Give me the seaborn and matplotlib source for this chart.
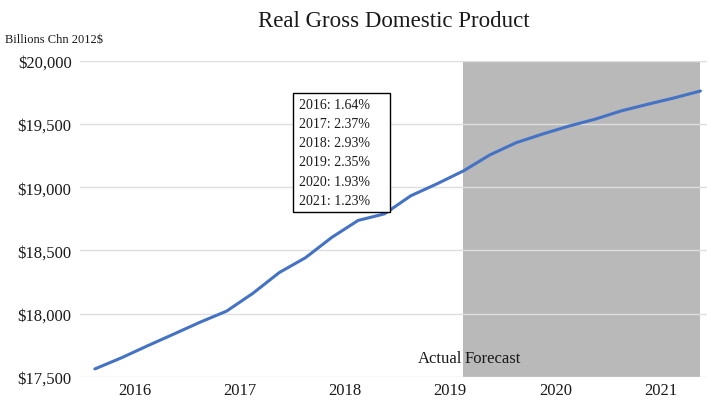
import matplotlib
matplotlib.use("Agg")
import matplotlib.pyplot as plt
import matplotlib.patches as mpatches
import seaborn as sns
import pandas as pd

# quarterly real GDP, billions of chained 2012 dollars (2016Q1 .. 2021Q4)
quarters = ["2016Q1", "2016Q2", "2016Q3", "2016Q4",
            "2017Q1", "2017Q2", "2017Q3", "2017Q4",
            "2018Q1", "2018Q2", "2018Q3", "2018Q4",
            "2019Q1", "2019Q2", "2019Q3", "2019Q4",
            "2020Q1", "2020Q2", "2020Q3", "2020Q4",
            "2021Q1", "2021Q2", "2021Q3", "2021Q4"]
gdp = [17563, 17650, 17746, 17839,
       17933, 18020, 18161, 18325,
       18443, 18604, 18738, 18790,
       18933, 19028, 19130, 19256,
       19353, 19421, 19484, 19539,
       19605, 19657, 19707, 19762]
years = ["2016", "2017", "2018", "2019", "2020", "2021"]
growth = ["1.64%", "2.37%", "2.93%", "2.35%", "1.93%", "1.23%"]
forecast_start = "2019Q3"

df = pd.DataFrame({"quarter": quarters, "gdp": gdp})
df["idx"] = range(len(df))

sns.set_style("white")
plt.rcParams["font.family"] = ["Liberation Serif", "DejaVu Serif"]

fig = plt.figure(figsize=(7.07, 4.02), dpi=100)
ax = fig.add_axes([0.113, 0.06, 0.887, 0.786])

fs = quarters.index(forecast_start)
ax.axvspan(fs, len(quarters) - 1, color="#b9b9b9", zorder=0, lw=0)

sns.lineplot(data=df, x="idx", y="gdp", ax=ax, color="#4472C4", lw=2.2, zorder=3)

ax.set_xlim(-0.57, 23.25)
ax.set_ylim(17500, 20000)
ax.set_yticks([17500, 18000, 18500, 19000, 19500, 20000])
ax.set_yticklabels(["${:,}".format(v) for v in ax.get_yticks().astype(int)])
ax.set_xticks([1.5 + 4 * i for i in range(len(years))])
ax.set_xticklabels(years)
ax.tick_params(axis="both", length=0, labelsize=12, colors="#1a1a1a")
ax.tick_params(axis="y", pad=6)
ax.tick_params(axis="x", pad=4)
ax.grid(axis="y", color="#dedede", lw=1, zorder=1)
ax.set_axisbelow(False)
for sp in ax.spines.values():
    sp.set_visible(False)
ax.set_xlabel("")
ax.set_ylabel("")

ax.set_title("Real Gross Domestic Product", fontsize=16.5, color="#1a1a1a", pad=25)
fig.text(0.007, 0.9, "Billions Chn 2012$", fontsize=9, color="#1a1a1a", va="center")

# growth-rate annotation box
box = mpatches.Rectangle((0.340, 0.522), 0.154, 0.377, transform=ax.transAxes,
                         fc="white", ec="black", lw=1, zorder=5)
ax.add_patch(box)
box_txt = "\n".join(f"{y}: {g}" for y, g in zip(years, growth))
ax.text(0.350, 0.711, box_txt, transform=ax.transAxes, fontsize=10, va="center",
        ha="left", linespacing=1.62, color="#1a1a1a", zorder=6)

ax.text(fs - 0.05, 17650, "Actual", fontsize=12, ha="right", va="center", color="#1a1a1a")
ax.text(fs + 0.05, 17650, "Forecast", fontsize=12, ha="left", va="center", color="#1a1a1a")

fig.savefig("out.png", dpi=100)
